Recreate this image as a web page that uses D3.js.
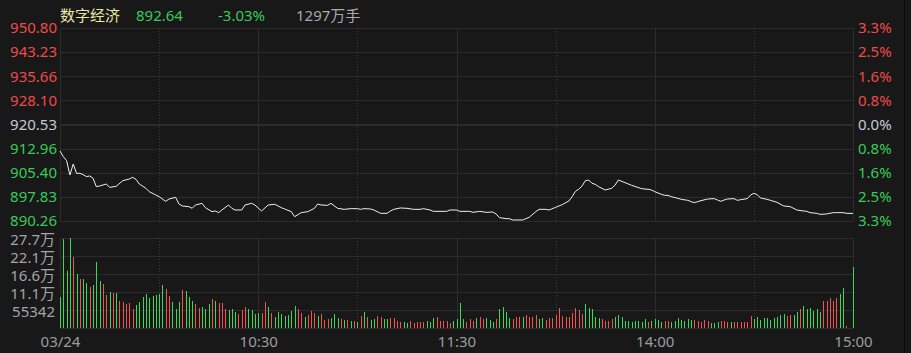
<!DOCTYPE html>
<html>
<head>
<meta charset="utf-8">
<script src="https://cdn.jsdelivr.net/npm/d3@7"></script>
<style>
body{margin:0;background:#181818;}
svg{display:block;}
</style>
</head>
<body>
<div id="chart-area"></div>
<script>
var width=911, height=353;
var plot={left:60,right:853,top:28,bottom:221};
var vplot={top:238,bottom:328};

var prevClose=920.53;
var header=["数字经济","892.64","-3.03%","1297万手"];

var priceTicks=[950.80,943.23,935.66,928.10,920.53,912.96,905.40,897.83,890.26];
var pctLabels=["3.3%","2.5%","1.6%","0.8%","0.0%","0.8%","1.6%","2.5%","3.3%"];
var volTicks=[276710,221368,166026,110684,55342];
var volLabels=["27.7万","22.1万","16.6万","11.1万","55342"];
var timeTicks=[0,60,120,180,240];
var timeLabels=["03/24","10:30","11:30","14:00","15:00"];
var solidTimes=[60,120,180];
var dottedTimes=[30,90,150,210];

// price line, minute index -> price
var minuteIdx=[0,1,2,3,4,5,6,7,8,9,10,11,12,14,15,17,19,21,22,23,24,26,27,29,30,32,33,35,36,37,
  39,40,41,43,44,46,47,48,49,51,52,53,55,56,58,59,61,63,65,67,68,70,71,73,75,77,78,79,81,82,84,86,
  88,90,91,92,94,95,97,99,100,101,103,105,107,109,110,112,113,115,117,118,120,121,124,125,127,129,131,
  132,133,135,136,137,140,141,142,144,145,147,148,150,151,152,154,155,156,157,158,159,160,161,162,163,
  165,167,168,169,171,173,176,178,179,180,182,183,184,185,187,188,190,191,192,193,194,196,198,199,200,
  201,202,204,205,206,208,209,210,211,212,214,215,217,219,221,223,225,226,227,229,230,232,234,235,237,238,240];
var price=[912.22,910.44,909.19,904.69,908.14,905.21,905.21,904.80,904.17,904.38,903.65,901.03,901.24,901.87,900.82,901.14,902.91,903.44,903.96,903.33,
  901.87,900.51,899.46,898.42,897.89,896.43,897.16,897.69,895.59,894.97,894.76,894.24,895.28,895.80,894.44,893.19,893.40,892.88,893.71,895.28,
  894.24,893.71,893.71,895.28,895.80,895.28,893.40,895.28,895.49,894.44,894.03,893.19,891.62,892.88,893.19,894.24,895.59,895.28,895.18,895.80,
  894.24,893.92,894.13,894.13,893.92,894.13,894.03,893.71,892.67,892.67,893.40,893.92,894.34,894.24,893.92,893.92,894.13,893.71,893.29,893.29,
  893.29,893.71,893.71,893.29,893.29,892.98,893.29,892.98,893.08,892.46,891.31,891.00,891.00,890.58,890.58,891.00,891.41,893.19,893.92,893.92,
  893.71,894.55,894.97,895.39,896.54,897.89,899.57,900.20,901.24,902.91,903.12,902.08,901.76,901.03,899.99,900.51,901.55,903.12,902.29,901.45,
  900.40,900.20,899.99,899.46,898.63,898.31,898.31,897.89,897.37,897.06,896.74,896.33,896.01,896.33,896.64,897.16,897.27,896.85,896.43,896.85,
  897.16,897.27,896.74,896.95,897.27,898.42,898.94,898.52,897.48,897.06,896.74,896.12,894.97,894.76,893.71,893.40,893.29,892.88,892.67,892.35,
  892.46,892.88,892.88,892.88,892.67,892.64];

// per-minute volume (241 bars), and colour r = up, g = down
var volume=[95300,273700,176300,276700,218300,166000,150700,150700,138400,126100,
  132200,203000,144500,135300,101500,110700,107600,107600,83000,80000,
  73800,76900,58400,70700,80000,95300,104600,92300,98400,101500,
  104600,132200,119900,98400,80000,58400,80000,116900,113800,95300,
  83000,73800,61500,64600,58400,73800,89200,83000,76900,76900,
  58400,55400,58400,49200,43100,55400,64600,58400,55400,43100,
  46100,46100,80000,64600,46100,33800,49200,43100,36900,40000,
  52300,67700,58400,46100,33800,40000,52300,46100,36900,43100,
  24600,27700,30700,43100,30700,27700,24600,24600,21500,21500,
  18400,36900,49200,33800,24600,27700,36900,33800,27700,27700,
  30700,30700,21500,18400,18400,15400,21500,15400,18400,18400,
  18400,21500,18400,30700,33800,21500,21500,21500,15400,21500,
  27700,76900,27700,18400,27700,21500,30700,33800,27700,30700,
  24600,18400,27700,58400,64600,49200,30700,27700,33800,33800,
  33800,40000,33800,33800,40000,27700,30700,24600,30700,30700,
  40000,61500,36900,33800,33800,46100,61500,55400,43100,73800,
  61500,58400,33800,30700,27700,21500,21500,27700,33800,40000,
  33800,21500,21500,18400,21500,21500,18400,27700,18400,21500,
  27700,24600,18400,21500,21500,18400,21500,30700,24600,21500,
  27700,24600,24600,21500,18400,24600,21500,15400,15400,18400,
  21500,21500,18400,18400,18400,18400,18400,18400,18400,36900,
  27700,33800,24600,30700,30700,24600,30700,33800,40000,43100,
  36900,40000,40000,49200,58400,67700,58400,61500,52300,58400,
  49200,83000,83000,92300,83000,92300,104600,123000,6200,0,
  187600];
var volDir="ggggrgrggrgggrrgrgrrrrrgggggggggrrgggrgggrrgggrgrrrgggrrrggggrrgrgggggggrrgrrrgrrrgggrgrgrgrgrggrrggrrrrggrrrrrgggrrrrrggggrrrgrrgggrggggrrrgrrrrggrrrrrrrrrrrrgggggrrrrggggggggggrggggrrgggggggrrrrrgggrrrgrrrrrrggggggggggrrggrggggggrrrrrggrgg";

var red="#f04a4a", green="#36cc58", neutral="#c4cad4";
var barRed="#f25353", barGreen="#3ad95c";
var gridColor="#2c2c2c", dotColor="#3a3a3a";
var fontFamily='"Noto Sans","Noto Sans CJK SC",sans-serif';

var svg=d3.select("#chart-area").append("svg")
    .attr("width",width)
    .attr("height",height)
    .style("background","#181818");

var x=d3.scaleLinear().domain([0,240]).range([plot.left,plot.right]);
var y=d3.scaleLinear().domain([890.26,950.80]).range([plot.bottom,plot.top]);
var yv=d3.scaleLinear().domain([0,276710]).range([vplot.bottom,vplot.top]);

function crisp(v){return Math.round(v)+0.5;}

// grid
var grid=svg.append("g").attr("fill","none");
priceTicks.forEach((d)=>{
    var isPrev=(d==prevClose);
    grid.append("line")
        .attr("x1",plot.left).attr("x2",plot.right)
        .attr("y1",isPrev?Math.round(y(d)):crisp(y(d)))
        .attr("y2",isPrev?Math.round(y(d)):crisp(y(d)))
        .attr("stroke",gridColor)
        .attr("stroke-width",isPrev?2:1);
});
volTicks.concat([0]).forEach((d)=>{
    grid.append("line")
        .attr("x1",plot.left).attr("x2",plot.right)
        .attr("y1",crisp(yv(d))).attr("y2",crisp(yv(d)))
        .attr("stroke",gridColor);
});
[0,240].concat(solidTimes).forEach((d)=>{
    [[plot.top,plot.bottom],[vplot.top,vplot.bottom]].forEach((r)=>{
        grid.append("line")
            .attr("x1",crisp(x(d))).attr("x2",crisp(x(d)))
            .attr("y1",r[0]).attr("y2",r[1])
            .attr("stroke",gridColor);
    });
});
dottedTimes.forEach((d)=>{
    [[plot.top,plot.bottom],[vplot.top,vplot.bottom]].forEach((r)=>{
        grid.append("line")
            .attr("x1",crisp(x(d))).attr("x2",crisp(x(d)))
            .attr("y1",r[0]).attr("y2",r[1])
            .attr("stroke",dotColor)
            .attr("stroke-dasharray","1,2");
    });
});
svg.append("line")
    .attr("x1",904.5).attr("x2",904.5).attr("y1",0).attr("y2",height)
    .attr("stroke","#0c0c0c");

// volume bars
svg.append("g").selectAll("rect")
    .data(volume)
    .enter().append("rect")
        .attr("x",(d,i)=>{return Math.round(x(i));})
        .attr("y",(d)=>{return yv(d);})
        .attr("width",1)
        .attr("height",(d)=>{return vplot.bottom-yv(d);})
        .attr("fill",(d,i)=>{return volDir[i]=="r"?barRed:barGreen;});

// price line
var line=d3.line()
    .x((d,i)=>{return x(minuteIdx[i]);})
    .y((d)=>{return y(d);});
svg.append("path")
    .datum(price)
    .attr("d",line)
    .attr("fill","none")
    .attr("stroke","#f0f0f0")
    .attr("stroke-width",1);

// axes
function styleAxis(sel){
    sel.attr("font-family",fontFamily).attr("font-size",15);
    sel.select(".domain").remove();
}
var leftAxis=svg.append("g")
    .attr("transform","translate("+plot.left+",0)")
    .call(d3.axisLeft(y).tickValues(priceTicks).tickSize(0).tickPadding(3).tickFormat(d3.format(".2f")))
    .call(styleAxis);
leftAxis.selectAll("text").attr("fill",(d)=>{return d>prevClose?red:(d<prevClose?green:neutral);});

var rightAxis=svg.append("g")
    .attr("transform","translate("+plot.right+",0)")
    .call(d3.axisRight(y).tickValues(priceTicks).tickSize(0).tickPadding(5).tickFormat((d,i)=>{return pctLabels[i];}))
    .call(styleAxis);
rightAxis.selectAll("text").attr("fill",(d)=>{return d>prevClose?red:(d<prevClose?green:neutral);});

svg.append("g")
    .attr("transform","translate("+plot.left+",2)")
    .call(d3.axisLeft(yv).tickValues(volTicks).tickSize(0).tickPadding(5).tickFormat((d,i)=>{return volLabels[i];}))
    .call(styleAxis)
    .selectAll("text").attr("fill","#a4a4a8");

svg.append("g")
    .attr("transform","translate(0,"+vplot.bottom+")")
    .call(d3.axisBottom(x).tickValues(timeTicks).tickSize(0).tickPadding(8).tickFormat((d,i)=>{return timeLabels[i];}))
    .call(styleAxis)
    .selectAll("text").attr("fill","#9c9ca0");

// header
var headX=[60,136,218,296];
var headColor=["#e8e8a6",green,green,"#a8a8b0"];
svg.append("g").selectAll("text")
    .data(header)
    .enter().append("text")
        .attr("x",(d,i)=>{return headX[i];})
        .attr("y",16)
        .attr("dy","0.35em")
        .attr("font-family",fontFamily)
        .attr("font-size",15)
        .attr("fill",(d,i)=>{return headColor[i];})
        .text((d)=>{return d;});
</script>
</body>
</html>
